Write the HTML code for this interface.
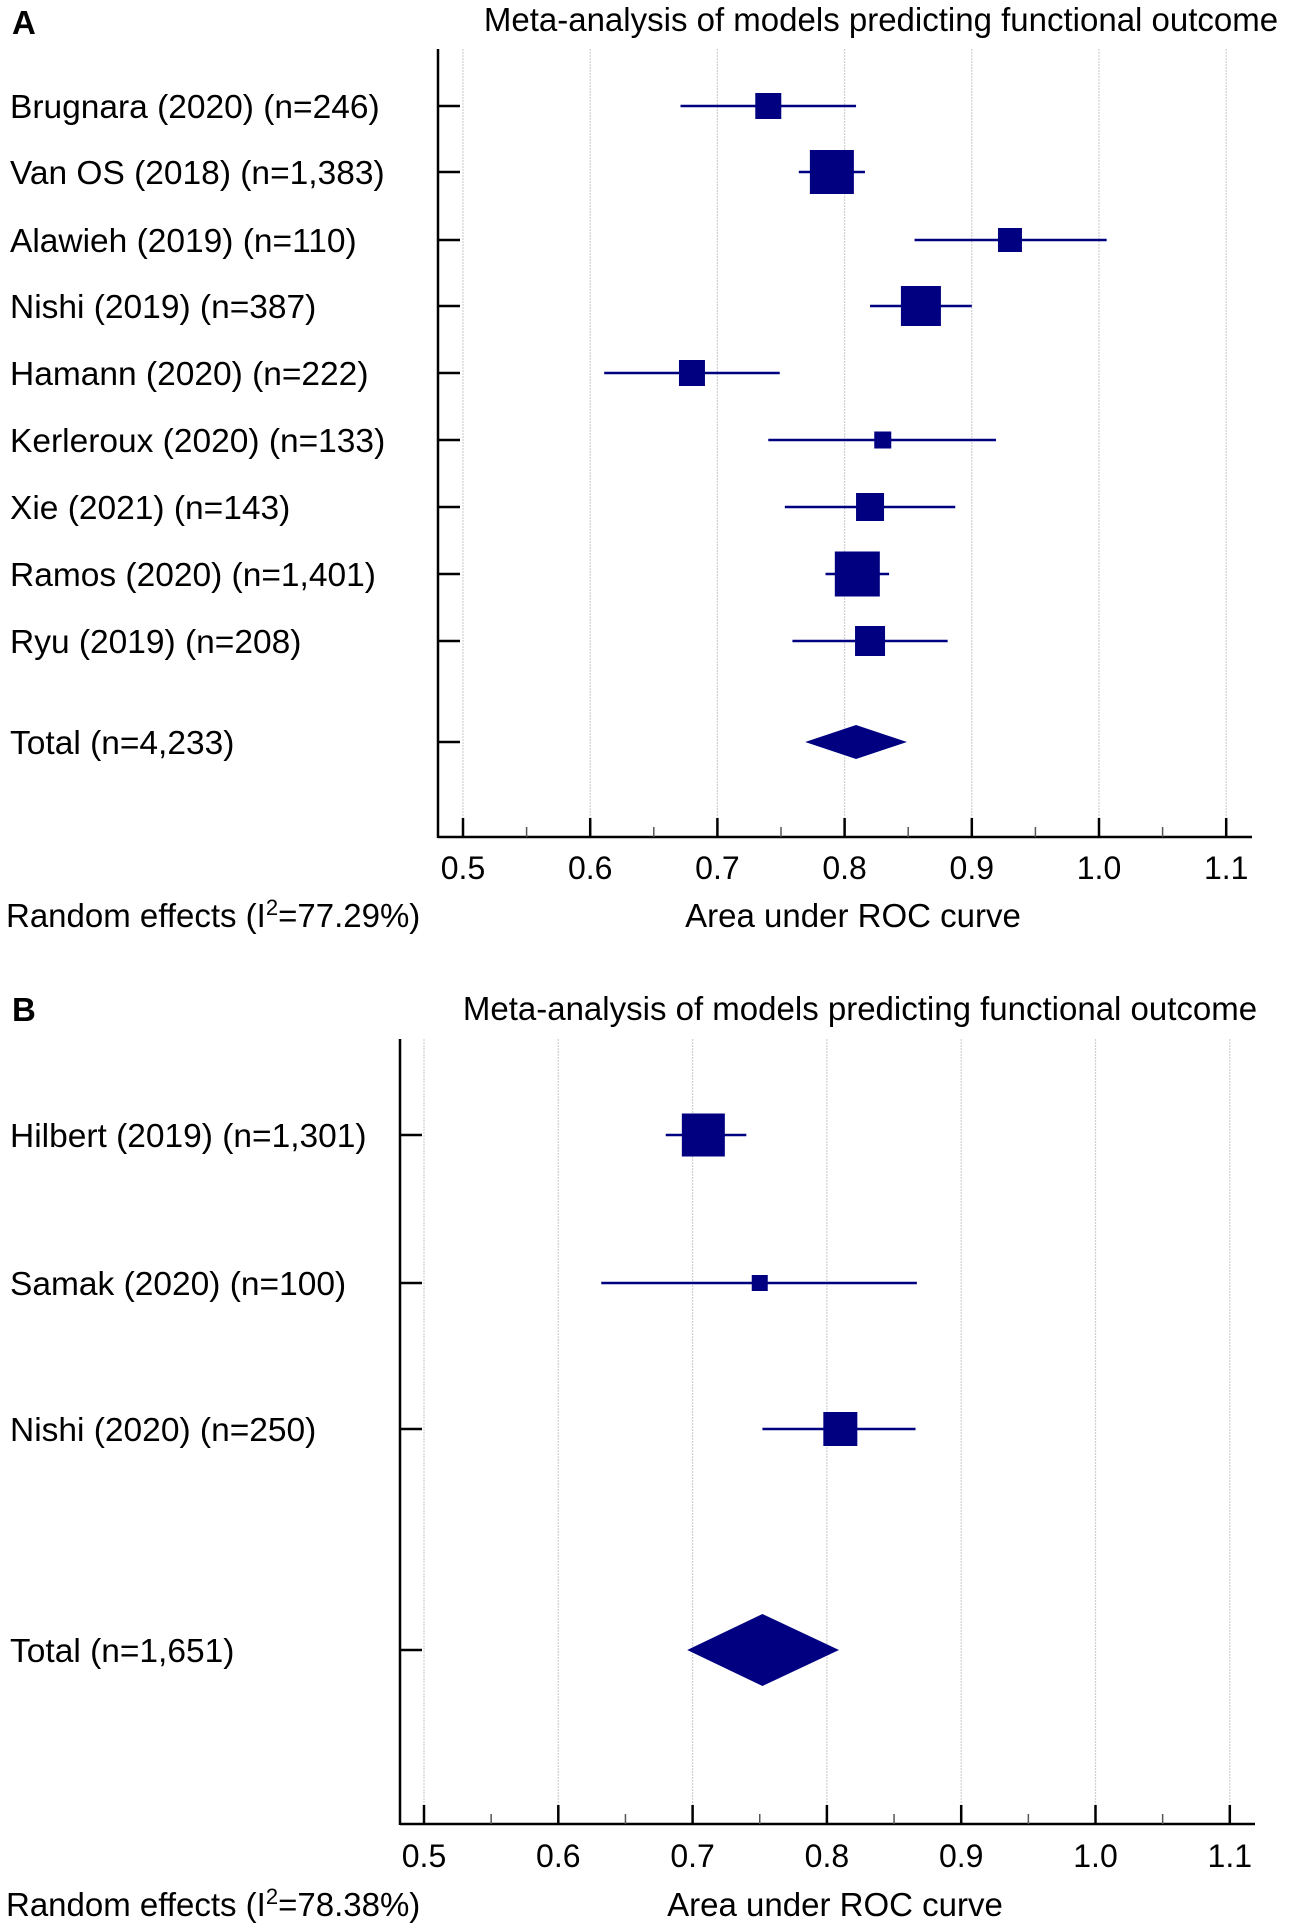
<!DOCTYPE html>
<html><head><meta charset="utf-8"><style>
html,body{margin:0;padding:0;background:#fff;}
svg{display:block;font-family:"Liberation Sans",Arial,sans-serif;}
</style></head><body>
<svg id="chart" width="1299" height="1928" viewBox="0 0 1299 1928" xmlns="http://www.w3.org/2000/svg">
<text x="12" y="34" font-size="33" font-weight="bold">A</text>
<text x="12" y="1021" font-size="33" font-weight="bold">B</text>
</svg>
<script>
// Panel A data
const labelsA = ["Brugnara (2020) (n=246)","Van OS (2018) (n=1,383)","Alawieh (2019) (n=110)","Nishi (2019) (n=387)","Hamann (2020) (n=222)","Kerleroux (2020) (n=133)","Xie (2021) (n=143)","Ramos (2020) (n=1,401)","Ryu (2019) (n=208)"];
const aucA = [0.74,0.79,0.93,0.86,0.68,0.83,0.82,0.81,0.82];
const lowA = [0.671,0.764,0.855,0.82,0.611,0.74,0.753,0.785,0.759];
const highA = [0.809,0.816,1.006,0.90,0.749,0.919,0.887,0.835,0.881];
const weightA = [26,44,24,40,26,17,28,45,30];
const totalA = [0.769,0.809,0.849];
const totalLabelA = "Total (n=4,233)";
// Panel B data
const labelsB = ["Hilbert (2019) (n=1,301)","Samak (2020) (n=100)","Nishi (2020) (n=250)"];
const aucB = [0.708,0.75,0.81];
const lowB = [0.68,0.632,0.752];
const highB = [0.74,0.867,0.866];
const weightB = [43,16,34];
const totalB = [0.696,0.752,0.809];
const totalLabelB = "Total (n=1,651)";
const ticks = [0.5,0.6,0.7,0.8,0.9,1.0,1.1];
const tickLabels = ["0.5","0.6","0.7","0.8","0.9","1.0","1.1"];

const NS="http://www.w3.org/2000/svg";
const svg=document.getElementById('chart');
const C="#000080";
function mk(tag,attrs,parent){const e=document.createElementNS(NS,tag);for(const k in attrs)e.setAttribute(k,attrs[k]);(parent||svg).appendChild(e);return e;}

function panel(cfg){
  const g=mk('g',{});
  
  
  const x=v=>cfg.x0+(v-0.5)/0.1*cfg.step;
  ticks.forEach(t=>{const l=mk('line',{x1:x(t),x2:x(t),y1:cfg.top,y2:cfg.bottom,stroke:"#d0d0d0","stroke-width":1.2,"stroke-dasharray":"2,1"},g);
    
    });
  const ya=mk('line',{x1:cfg.ax,x2:cfg.ax,y1:cfg.top,y2:cfg.bottom+1,stroke:"#000","stroke-width":2.5},g);
  
  
  const xa=mk('line',{x1:cfg.ax,x2:cfg.right,y1:cfg.bottom,y2:cfg.bottom,stroke:"#000","stroke-width":2.5},g);
  
  
  ticks.forEach((t,i)=>{
    const tk=mk('line',{x1:x(t),x2:x(t),y1:cfg.bottom-19,y2:cfg.bottom,stroke:"#000","stroke-width":2.5},g);
    
    
    if(i<ticks.length-1){const m=mk('line',{x1:x(t+0.05),x2:x(t+0.05),y1:cfg.bottom-10,y2:cfg.bottom,stroke:"#555","stroke-width":1.5},g);
      
      }
    const tl=mk('text',{x:x(t),y:cfg.bottom+cfg.tickOff,"font-size":32,"text-anchor":"middle"},g);
    tl.textContent=tickLabels[i];
    
    
  });
  const addLabel=(txt,y)=>{const t=mk('text',{x:10,y:y+12,"font-size":33.5},g);t.textContent=txt;
    
    };
  const addYTick=y=>{const l=mk('line',{x1:cfg.ax,x2:cfg.ax+22,y1:y,y2:y,stroke:"#000","stroke-width":2.5},g);
    
    };
  cfg.labels.forEach((lab,i)=>{
    const y=cfg.rowY[i];
    addYTick(y);addLabel(lab,y);
    const ci=mk('line',{x1:x(cfg.low[i]),x2:x(cfg.high[i]),y1:y,y2:y,stroke:C,"stroke-width":2.5},g);
    
    
    const s=cfg.w[i];
    const r=mk('rect',{x:x(cfg.auc[i])-s/2,y:y-s/2,width:s,height:s,fill:C},g);
    
    
  });
  const ty=cfg.totalY;
  addYTick(ty);addLabel(cfg.totalLabel,ty);
  const h=cfg.dh,T=cfg.total;
  const d=mk('polygon',{points:`${x(T[0])},${ty} ${x(T[1])},${ty-h} ${x(T[2])},${ty} ${x(T[1])},${ty+h}`,fill:C},g);
  
  
  const tt=mk('text',{x:cfg.titleX,y:cfg.titleY,"font-size":33,"text-anchor":"middle"},g);
  tt.textContent="Meta-analysis of models predicting functional outcome";
  
  
  const xt=mk('text',{x:cfg.xtX,y:cfg.bottom+cfg.titleOff,"font-size":33,"text-anchor":"middle"},g);
  xt.textContent="Area under ROC curve";
  
  
  const re=mk('text',{x:6,y:cfg.bottom+cfg.titleOff,"font-size":33},g);
  re.innerHTML='Random effects (I<tspan baseline-shift="super" font-size="22">2</tspan>='+cfg.i2+')';
  
  
}

panel({name:'panel-a-forest-plot',x0:463,step:127.2,ax:438,right:1252,top:49,bottom:837,
  rowY:[106,172,240,306,373,440,507,574,641],totalY:742,dh:17,
  labels:labelsA,auc:aucA,low:lowA,high:highA,w:weightA,total:totalA,totalLabel:totalLabelA,
  titleX:881,titleY:31,xtX:853,i2:'77.29%',tickOff:42,titleOff:90});
panel({name:'panel-b-forest-plot',x0:424,step:134.3,ax:400,right:1255,top:1039,bottom:1824,
  rowY:[1135,1283,1429],totalY:1650,dh:36,
  labels:labelsB,auc:aucB,low:lowB,high:highB,w:weightB,total:totalB,totalLabel:totalLabelB,
  titleX:860,titleY:1020,xtX:835,i2:'78.38%',tickOff:43,titleOff:92});
</script>
</body></html>
